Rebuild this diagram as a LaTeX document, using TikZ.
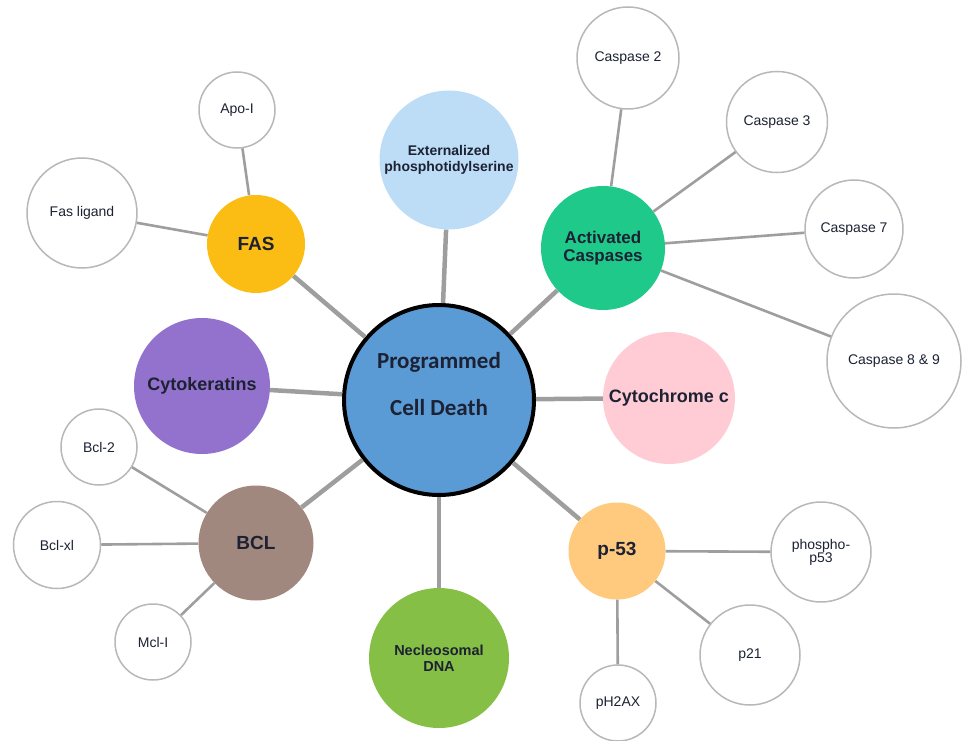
\documentclass[tikz,border=0pt]{standalone}
\usepackage{fontspec}
\setmainfont{Liberation Sans}
\newfontfamily\carl{Carlito}
\definecolor{cpcd}{HTML}{5B9BD5}
\definecolor{cfas}{HTML}{FBBD13}
\definecolor{cext}{HTML}{BDDCF5}
\definecolor{cact}{HTML}{1FC98A}
\definecolor{ccyt}{HTML}{FFCCD5}
\definecolor{ckera}{HTML}{9272CC}
\definecolor{cbcl}{HTML}{A1887F}
\definecolor{cdna}{HTML}{86BF45}
\definecolor{cp53}{HTML}{FFCA7E}
\definecolor{ctext}{HTML}{1C2233}
\definecolor{cline}{HTML}{9E9E9E}
\definecolor{cring}{HTML}{B8B8B8}
\begin{document}
\begin{tikzpicture}[x=1pt,y=-1pt,
  hub/.style={circle,draw=none,inner sep=0pt,align=center,text=ctext,font=\bfseries\fontsize{18}{20}\selectfont},
  leaf/.style={circle,draw=cring,line width=1.5pt,fill=white,inner sep=0pt,align=center,text=ctext,font=\fontsize{14}{14}\selectfont},
  mainlink/.style={draw=cline,line width=4.5pt},
  sublink/.style={draw=cline,line width=2.6pt}]
\useasboundingbox (0,0) rectangle (964,741);
\node[hub,minimum size=190pt,fill=cpcd,draw=black,line width=4pt,
  label={[font=\carl\bfseries\fontsize{23}{25}\selectfont,text=ctext,align=center,yshift=16pt]center:Programmed\\[22pt]Cell Death}] (pcd) at (439,400) {};
\node[hub,minimum size=98pt,fill=cfas,font=\bfseries\fontsize{19}{21}\selectfont] (fas) at (256,244) {FAS};
\node[hub,minimum size=139pt,fill=cext,font=\bfseries\fontsize{14}{16}\selectfont] (ext) at (449,160) {Externalized\\phosphotidylserine};
\node[hub,minimum size=124pt,fill=cact,font=\bfseries\fontsize{17}{18}\selectfont] (act) at (603,248) {Activated\\Caspases};
\node[hub,minimum size=132pt,fill=ccyt] (cyt) at (669,398) {Cytochrome c};
\node[hub,minimum size=136pt,fill=ckera] (kera) at (202,386) {Cytokeratins};
\node[hub,minimum size=115pt,fill=cbcl,font=\bfseries\fontsize{19}{21}\selectfont] (bcl) at (256,543) {BCL};
\node[hub,minimum size=140pt,fill=cdna,font=\bfseries\fontsize{14.5}{16}\selectfont] (dna) at (439,658) {Necleosomal\\DNA};
\node[hub,minimum size=97pt,fill=cp53,font=\bfseries\fontsize{19}{21}\selectfont] (p53) at (617,551) {p-53};
% leaves
\node[leaf,minimum size=76pt] (apo) at (237,110) {Apo-I};
\node[leaf,minimum size=110pt] (fasl) at (82,213) {Fas ligand};
\node[leaf,minimum size=102pt] (c2) at (628,58) {Caspase 2};
\node[leaf,minimum size=101pt] (c3) at (777,122) {Caspase 3};
\node[leaf,minimum size=98pt] (c7) at (854,229) {Caspase 7};
\node[leaf,minimum size=134pt] (c89) at (894,361) {Caspase 8 \& 9};
\node[leaf,minimum size=76pt] (bcl2) at (99,447) {Bcl-2};
\node[leaf,minimum size=87pt] (bclxl) at (57,545) {Bcl-xl};
\node[leaf,minimum size=76pt] (mcl) at (153,642) {Mcl-I};
\node[leaf,minimum size=100pt,font=\fontsize{14}{13}\selectfont] (pp53) at (821,552) {phospho-\\p53};
\node[leaf,minimum size=100pt] (p21) at (750,655) {p21};
\node[leaf,minimum size=76pt] (ph2ax) at (618,703) {pH2AX};
% main links
\draw[mainlink] (pcd) -- (fas);
\draw[mainlink] (pcd) -- (ext);
\draw[mainlink] (pcd) -- (act);
\draw[mainlink] (pcd) -- (cyt);
\draw[mainlink] (pcd) -- (kera);
\draw[mainlink] (pcd) -- (bcl);
\draw[mainlink] (pcd) -- (dna);
\draw[mainlink] (pcd) -- (p53);
% sub links
\draw[sublink] (fas) -- (apo);
\draw[sublink] (fas) -- (fasl);
\draw[sublink] (act) -- (c2);
\draw[sublink] (act) -- (c3);
\draw[sublink] (act) -- (c7);
\draw[sublink] (act) -- (c89);
\draw[sublink] (bcl) -- (bcl2);
\draw[sublink] (bcl) -- (bclxl);
\draw[sublink] (bcl) -- (mcl);
\draw[sublink] (p53) -- (pp53);
\draw[sublink] (p53) -- (p21);
\draw[sublink] (p53) -- (ph2ax);
\end{tikzpicture}
\end{document}
